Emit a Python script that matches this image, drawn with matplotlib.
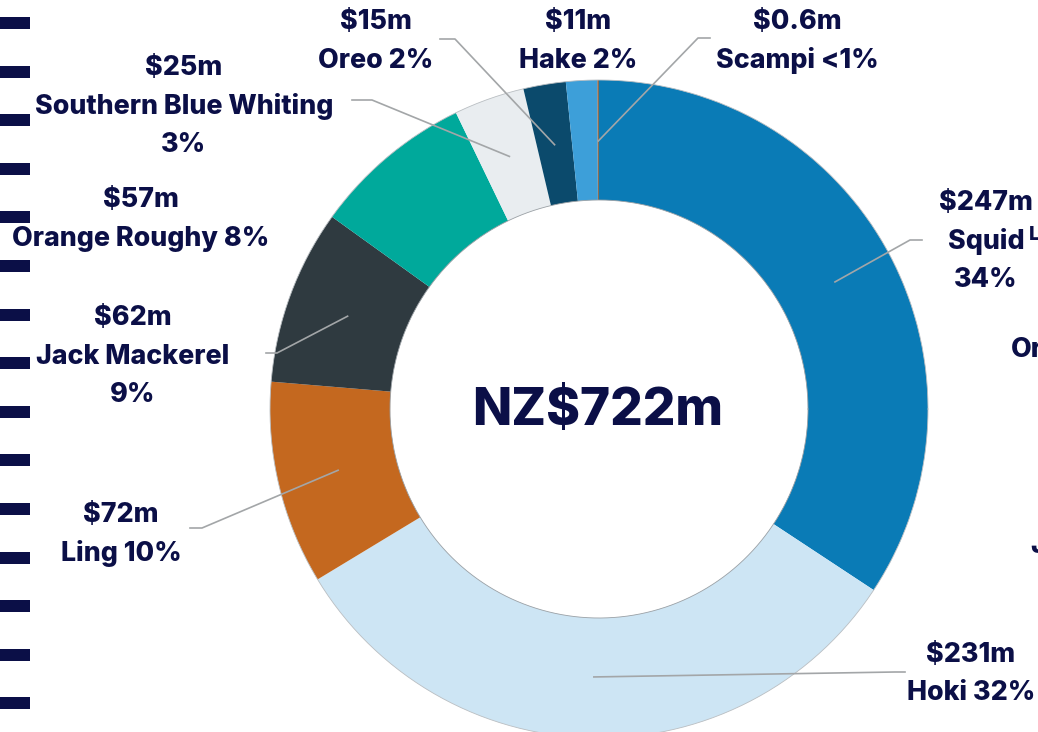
import numpy as np
import matplotlib
matplotlib.use("Agg")
import matplotlib.pyplot as plt
from matplotlib.patches import Rectangle

### data ###
species = ["Squid", "Hoki", "Ling", "Jack Mackerel", "Orange Roughy",
           "Southern Blue Whiting", "Oreo", "Hake", "Scampi"]
values = [247, 231, 72, 62, 57, 25, 15, 11, 0.6]
dollars = ["$247m", "$231m", "$72m", "$62m", "$57m", "$25m", "$15m", "$11m", "$0.6m"]
names = [["Squid", "34%"], ["Hoki 32%"], ["Ling 10%"], ["Jack Mackerel", "9%"],
         ["Orange Roughy 8%"], ["Southern Blue Whiting", "3%"], ["Oreo 2%"],
         ["Hake 2%"], ["Scampi <1%"]]
colors = ["#0a7bb6", "#cde5f4", "#c4681f", "#2f3a40", "#00a99b",
          "#e9edf0", "#0b4a6c", "#3d9fd9", "#8b6b52"]
total = "NZ$722m"

# label layout (pixel coords, y from top): centre of first line
lab_xy = [(986, 203), (971, 655), (121, 515), (133, 318), (141, 200),
          (184, 68), (376, 22), (578, 22), (797, 22)]
# leader: (x_text_end, y, x_knee) ; None = no leader
lead = [(922, 240, 910), (905, 672, 895), (190, 528, 202), (266, 353, 277), None,
        (352, 100, 372), (440, 39, 455), None, (710, 38, 698)]

navy = "#0b0f47"
W, H = 1038, 732
cx, cy, R, r_in = 599, H - 409, 329, 209
fs = 19.3
step = 38.5

plt.rcParams['font.family'] = ['Inter', 'DejaVu Sans']

fig = plt.figure(figsize=(W / 100, H / 100), dpi=100)
ax = fig.add_axes([0, 0, 1, 1])

wedges, _ = ax.pie(values, colors=colors, startangle=90, counterclock=False,
                   center=(cx, cy), radius=R,
                   wedgeprops=dict(width=R - r_in, linewidth=0))
ax.set_xlim(0, W)
ax.set_ylim(0, H)
ax.set_aspect("equal")
ax.axis("off")

t = np.linspace(0, 2 * np.pi, 600)
ax.plot(cx + R * np.cos(t), cy + R * np.sin(t), color="#b9bec2", lw=0.6)
ax.plot(cx + r_in * np.cos(t), cy + r_in * np.sin(t), color="#9aa0a5", lw=0.6)

ax.text(cx - 1, H - 412, total, ha="center", va="center", fontsize=37,
        fontweight="heavy", color=navy)

# labels and leader lines
for w, d, nm, (lx, ly), ld in zip(wedges, dollars, names, lab_xy, lead):
    for i, s in enumerate([d] + nm):
        ax.text(lx, H - ly - i * step, s, ha="center", va="center", fontsize=fs,
                fontweight="heavy", color=navy)
    if ld is None:
        continue
    ang = np.deg2rad((w.theta1 + w.theta2) / 2)
    px, py = cx + 268 * np.cos(ang), cy + 268 * np.sin(ang)
    x0, y0, xk = ld
    ax.plot([x0, xk, px], [H - y0, H - y0, py], color="#a3a6a8", lw=1.2)

# clipped labels of the neighbouring chart
for s, x, y, f in [("Ling", 1029, 235, 14), ("Orange", 1011, 350, fs), ("Jack", 1030, 546, fs)]:
    ax.text(x, H - y, s, ha="left", va="center", fontsize=f,
            fontweight="heavy", color=navy)

# dashes down the left edge
for k in range(15):
    yy = 23 + k * 48.6
    fig.patches.append(Rectangle((0, (H - yy - 6) / H), 30 / W, 12 / H,
                                 transform=fig.transFigure, color=navy, lw=0))

fig.savefig("out.png", dpi=100)
